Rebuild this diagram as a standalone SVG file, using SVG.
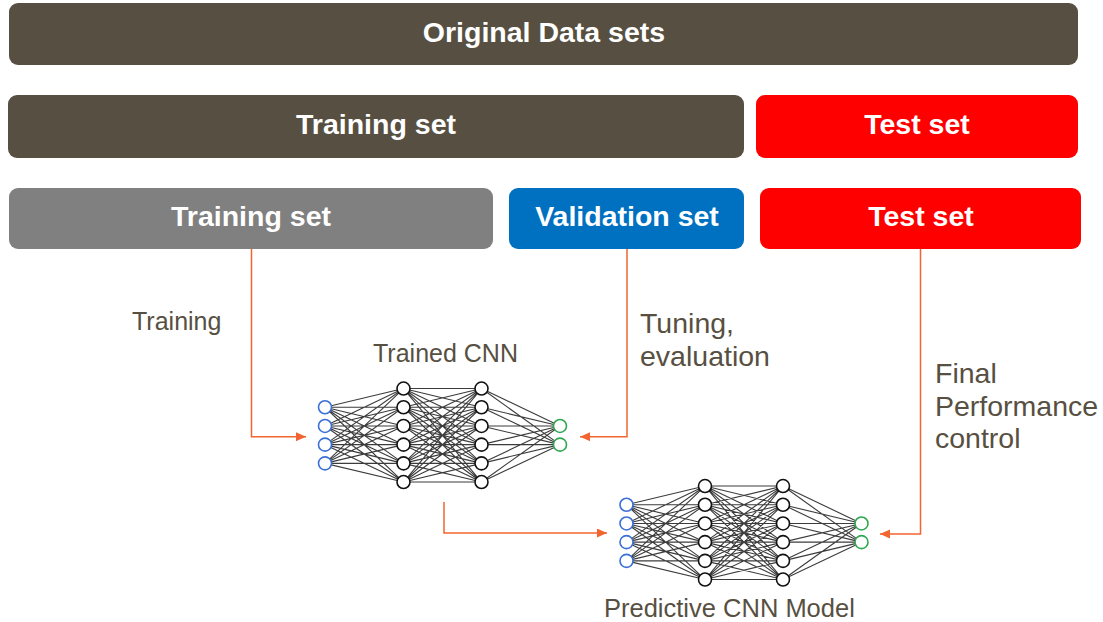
<svg xmlns="http://www.w3.org/2000/svg" xmlns:xlink="http://www.w3.org/1999/xlink" width="1103" height="622" viewBox="0 0 1103 622">
  <style>
    .box-dark { fill: #575042; }
    .box-gray { fill: #808080; }
    .box-blue { fill: #0070C0; }
    .box-red { fill: #FF0000; }
    .box-title { font-family: "Liberation Sans", Arial, sans-serif; font-weight: bold; font-size: 28.5px; fill: #FFFFFF; text-anchor: middle; }
    .label { font-family: "Liberation Sans", Arial, sans-serif; fill: #575042; }
    .flow { fill: none; stroke: #F26430; stroke-width: 1.5; }
    .edge { stroke: #1a1a1a; stroke-width: 1.1; stroke-opacity: 0.85; }
    .n-in { fill: #FFFFFF; stroke: #3A6FD8; stroke-width: 1.6; }
    .n-hid { fill: #FFFFFF; stroke: #111111; stroke-width: 1.6; }
    .n-out { fill: #FFFFFF; stroke: #2EA84F; stroke-width: 1.6; }
  </style>
  <defs>
    <marker id="arrow" markerUnits="userSpaceOnUse" markerWidth="11" markerHeight="10" refX="10" refY="4.5" orient="auto">
      <path d="M0,0 L10,4.5 L0,9 z" fill="#F26430"/>
    </marker>
    <!-- Fully connected network: 4 inputs, two hidden layers of 6, 2 outputs -->
    <g id="cnn">
      <g class="edge">
        <!-- input -> hidden 1 -->
        <path d="M0,-28.05 L78.5,-46.75 M0,-28.05 L78.5,-28.05 M0,-28.05 L78.5,-9.35 M0,-28.05 L78.5,9.35 M0,-28.05 L78.5,28.05 M0,-28.05 L78.5,46.75
                 M0,-9.35 L78.5,-46.75 M0,-9.35 L78.5,-28.05 M0,-9.35 L78.5,-9.35 M0,-9.35 L78.5,9.35 M0,-9.35 L78.5,28.05 M0,-9.35 L78.5,46.75
                 M0,9.35 L78.5,-46.75 M0,9.35 L78.5,-28.05 M0,9.35 L78.5,-9.35 M0,9.35 L78.5,9.35 M0,9.35 L78.5,28.05 M0,9.35 L78.5,46.75
                 M0,28.05 L78.5,-46.75 M0,28.05 L78.5,-28.05 M0,28.05 L78.5,-9.35 M0,28.05 L78.5,9.35 M0,28.05 L78.5,28.05 M0,28.05 L78.5,46.75"/>
        <!-- hidden 1 -> hidden 2 -->
        <path d="M78.5,-46.75 L156.5,-46.75 M78.5,-46.75 L156.5,-28.05 M78.5,-46.75 L156.5,-9.35 M78.5,-46.75 L156.5,9.35 M78.5,-46.75 L156.5,28.05 M78.5,-46.75 L156.5,46.75
                 M78.5,-28.05 L156.5,-46.75 M78.5,-28.05 L156.5,-28.05 M78.5,-28.05 L156.5,-9.35 M78.5,-28.05 L156.5,9.35 M78.5,-28.05 L156.5,28.05 M78.5,-28.05 L156.5,46.75
                 M78.5,-9.35 L156.5,-46.75 M78.5,-9.35 L156.5,-28.05 M78.5,-9.35 L156.5,-9.35 M78.5,-9.35 L156.5,9.35 M78.5,-9.35 L156.5,28.05 M78.5,-9.35 L156.5,46.75
                 M78.5,9.35 L156.5,-46.75 M78.5,9.35 L156.5,-28.05 M78.5,9.35 L156.5,-9.35 M78.5,9.35 L156.5,9.35 M78.5,9.35 L156.5,28.05 M78.5,9.35 L156.5,46.75
                 M78.5,28.05 L156.5,-46.75 M78.5,28.05 L156.5,-28.05 M78.5,28.05 L156.5,-9.35 M78.5,28.05 L156.5,9.35 M78.5,28.05 L156.5,28.05 M78.5,28.05 L156.5,46.75
                 M78.5,46.75 L156.5,-46.75 M78.5,46.75 L156.5,-28.05 M78.5,46.75 L156.5,-9.35 M78.5,46.75 L156.5,9.35 M78.5,46.75 L156.5,28.05 M78.5,46.75 L156.5,46.75"/>
        <!-- hidden 2 -> output -->
        <path d="M156.5,-46.75 L235,-9.35 M156.5,-46.75 L235,9.35
                 M156.5,-28.05 L235,-9.35 M156.5,-28.05 L235,9.35
                 M156.5,-9.35 L235,-9.35 M156.5,-9.35 L235,9.35
                 M156.5,9.35 L235,-9.35 M156.5,9.35 L235,9.35
                 M156.5,28.05 L235,-9.35 M156.5,28.05 L235,9.35
                 M156.5,46.75 L235,-9.35 M156.5,46.75 L235,9.35"/>
      </g>
      <g class="n-in">
        <circle cx="0" cy="-28.05" r="6.5"/>
        <circle cx="0" cy="-9.35" r="6.5"/>
        <circle cx="0" cy="9.35" r="6.5"/>
        <circle cx="0" cy="28.05" r="6.5"/>
      </g>
      <g class="n-hid">
        <circle cx="78.5" cy="-46.75" r="6.5"/>
        <circle cx="78.5" cy="-28.05" r="6.5"/>
        <circle cx="78.5" cy="-9.35" r="6.5"/>
        <circle cx="78.5" cy="9.35" r="6.5"/>
        <circle cx="78.5" cy="28.05" r="6.5"/>
        <circle cx="78.5" cy="46.75" r="6.5"/>
        <circle cx="156.5" cy="-46.75" r="6.5"/>
        <circle cx="156.5" cy="-28.05" r="6.5"/>
        <circle cx="156.5" cy="-9.35" r="6.5"/>
        <circle cx="156.5" cy="9.35" r="6.5"/>
        <circle cx="156.5" cy="28.05" r="6.5"/>
        <circle cx="156.5" cy="46.75" r="6.5"/>
      </g>
      <g class="n-out">
        <circle cx="235" cy="-9.35" r="6.5"/>
        <circle cx="235" cy="9.35" r="6.5"/>
      </g>
    </g>
  </defs>

  <rect width="1103" height="622" fill="#FFFFFF"/>

  <!-- Data split bars -->
  <g id="original-data">
    <rect class="box-dark" x="9" y="3" width="1069" height="62" rx="9"/>
    <text class="box-title" x="544" y="42">Original Data sets</text>
  </g>
  <g id="training-set-all">
    <rect class="box-dark" x="8" y="95" width="736" height="63" rx="9"/>
    <text class="box-title" x="376" y="134">Training set</text>
  </g>
  <g id="test-set-top">
    <rect class="box-red" x="756" y="95" width="322" height="63" rx="9"/>
    <text class="box-title" x="917" y="134">Test set</text>
  </g>
  <g id="training-set">
    <rect class="box-gray" x="9" y="188" width="484" height="61" rx="9"/>
    <text class="box-title" x="251" y="226">Training set</text>
  </g>
  <g id="validation-set">
    <rect class="box-blue" x="509" y="188" width="235" height="61" rx="9"/>
    <text class="box-title" x="627" y="226">Validation set</text>
  </g>
  <g id="test-set">
    <rect class="box-red" x="760" y="188" width="321" height="61" rx="9"/>
    <text class="box-title" x="921" y="226">Test set</text>
  </g>

  <!-- Networks -->
  <g id="trained-cnn">
    <use xlink:href="#cnn" transform="translate(325,435.3)"/>
    <text class="label" x="373" y="362" font-size="25">Trained CNN</text>
  </g>
  <g id="predictive-cnn">
    <use xlink:href="#cnn" transform="translate(626.5,532.8)"/>
    <text class="label" x="604" y="617" font-size="25.5">Predictive CNN Model</text>
  </g>

  <!-- Flow connectors -->
  <g id="connectors">
    <path class="flow" d="M251.5,249 V436.7 H306" marker-end="url(#arrow)"/>
    <path class="flow" d="M627,249 V436.7 H580" marker-end="url(#arrow)"/>
    <path class="flow" d="M920.5,249 V534 H880" marker-end="url(#arrow)"/>
    <path class="flow" d="M444,502 V533 H607" marker-end="url(#arrow)"/>
  </g>

  <!-- Connector labels -->
  <g id="labels">
    <text class="label" x="132" y="330" font-size="25">Training</text>
    <text class="label" x="640" y="333" font-size="28.5">Tuning,</text>
    <text class="label" x="640" y="366" font-size="28.5">evaluation</text>
    <text class="label" x="935" y="383" font-size="28.5">Final</text>
    <text class="label" x="935" y="416" font-size="28.5">Performance</text>
    <text class="label" x="935" y="448" font-size="28.5">control</text>
  </g>
</svg>
